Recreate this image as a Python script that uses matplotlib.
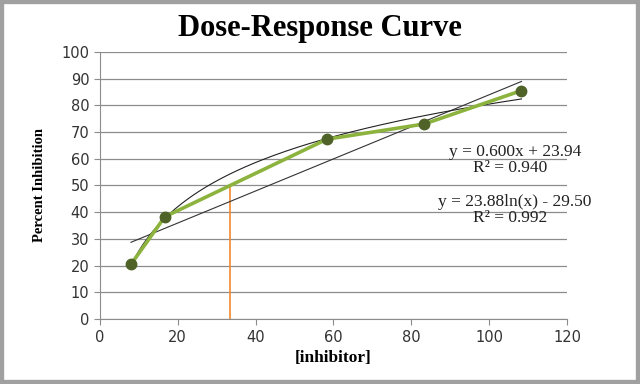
import numpy as np
import matplotlib.pyplot as plt
from matplotlib.patches import Rectangle

dose = [8.0, 16.7, 58.3, 83.3, 108.3]
inhibition = [20.5, 38.3, 67.3, 73.0, 85.5]
lin_slope, lin_icpt = 0.600, 23.94
log_coef, log_icpt = 23.88, -29.50
ic50 = 33.5

fig = plt.figure(figsize=(6.4, 3.84), dpi=100)
ax = fig.add_axes([0.156, 0.169, 0.73, 0.696])

xs = np.linspace(min(dose), max(dose), 200)
ax.plot(xs, lin_slope * xs + lin_icpt, color='#333333', lw=0.8, zorder=3)
ax.plot(xs, log_coef * np.log(xs) + log_icpt, color='#222222', lw=0.8, zorder=3)
ax.plot(dose, inhibition, color='#8db33f', lw=2.6, zorder=4,
        marker='o', ms=7.5, mfc='#4f6228', mec='#4f6228')
ax.plot([ic50, ic50], [0, 50], color='#f28a30', lw=1.2, zorder=2)

ax.set_xlim(0, 120)
ax.set_ylim(0, 100)
ax.set_xticks(range(0, 121, 20))
ax.set_yticks(range(0, 101, 10))
ax.grid(axis='y', color='#8c8c8c', lw=0.9)
ax.set_axisbelow(True)
for s in ['top', 'right']:
    ax.spines[s].set_visible(False)
for s in ['left', 'bottom']:
    ax.spines[s].set_color('#8c8c8c')
ax.tick_params(colors='#8c8c8c', labelcolor='#333333', labelsize=10.5, length=4)

ax.set_xlabel('[inhibitor]', family='Liberation Serif', fontweight='bold', fontsize=12.5)
ax.set_ylabel('Percent Inhibition', family='Liberation Serif', fontweight='bold',
              fontsize=10.5)
ax.yaxis.set_label_coords(-0.115, 0.5)
fig.suptitle('Dose-Response Curve', family='Liberation Serif', fontweight='bold',
             fontsize=22, y=0.925, va='center')

tf = dict(family='Liberation Serif', fontsize=12.5, ha='center', va='center', color='#222222')
ax.text(106.6, 62.5, 'y = 0.600x + 23.94', **tf)
ax.text(105.5, 56.6, 'R² = 0.940', **tf)
ax.text(106.6, 43.8, 'y = 23.88ln(x) - 29.50', **tf)
ax.text(105.5, 37.8, 'R² = 0.992', **tf)

fig.patches.append(Rectangle((0, 0), 1, 1, transform=fig.transFigure, fill=False,
                             edgecolor='#a0a0a0', lw=6))

fig.savefig('out.png', dpi=100)
